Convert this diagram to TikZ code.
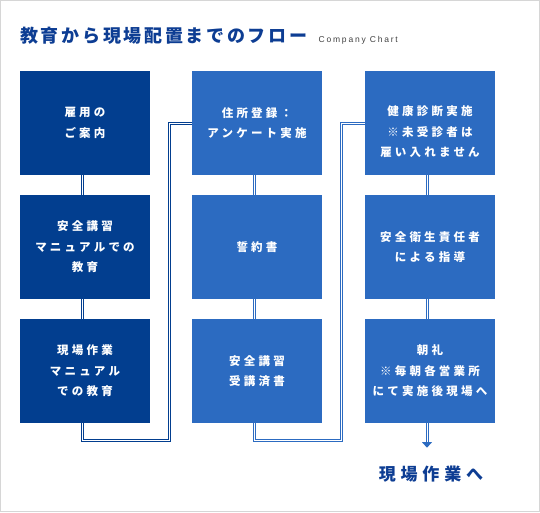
\documentclass[tikz,border=0pt]{standalone}
\usepackage{fontspec}
\newfontfamily\jpfont[LetterSpace=28]{Noto Sans CJK JP}
\newfontfamily\jptitle[LetterSpace=15]{Noto Sans CJK JP}
\newfontfamily\jpgoal[LetterSpace=28]{Noto Sans CJK JP}
\newfontfamily\latinsub[LetterSpace=21]{Liberation Sans}
\usetikzlibrary{calc, positioning}

\definecolor{dk}{HTML}{023E8F}
\definecolor{lt}{HTML}{2C6BC1}
\definecolor{ttl}{HTML}{0D3D93}
\definecolor{frame}{HTML}{D6D6D6}

\begin{document}
\begin{tikzpicture}[x=1pt, y=-1pt,
		box/.style={minimum width=130pt, minimum height=104pt, inner sep=0pt,
			text=white, align=center, font=\jpfont\bfseries\fontsize{11.5}{20.5}\selectfont},
		darkbox/.style={box, fill=dk},
		lightbox/.style={box, fill=lt},
		link/.style={draw=#1, line width=1pt, double=white, double distance=1pt},
		every node/.style={inner sep=0pt}]
	\useasboundingbox (0,0) rectangle (540,512);
	\draw[frame, line width=1pt] (0.5,0.5) rectangle (539.5,511.5);

	% ==================== 見出し ====================
	\node[anchor=base west, text=ttl, font=\jptitle\bfseries\fontsize{18}{18}\selectfont] (title) at (20,42) {教育から現場配置までのフロー};
	\node[anchor=base west, text=black!75, font=\latinsub\fontsize{8.5}{8.5}\selectfont, xshift=11pt] (sub) at (title.base east) {Company Chart};

	% ==================== 左列 ====================
	\node[darkbox] (a1) at (85,123) {雇用の\\ご案内};
	\node[darkbox] (a2) at (85,247) {安全講習\\マニュアルでの\\教育};
	\node[darkbox] (a3) at (85,371) {現場作業\\マニュアル\\での教育};

	% ==================== 中列 ====================
	\node[lightbox] (b1) at (257,123) {住所登録：\\アンケート実施};
	\node[lightbox] (b2) at (257,247) {誓約書};
	\node[lightbox] (b3) at (257,371) {安全講習\\受講済書};

	% ==================== 右列 ====================
	\node[lightbox] (c1) at (430,123) {};
	\node[box] (c1t) at ([yshift=-9pt]c1.center) {健康診断実施\\※未受診者は\\雇い入れません};
	\node[lightbox] (c2) at (430,247) {安全衛生責任者\\による指導};
	\node[lightbox] (c3) at (430,371) {朝礼\\※毎朝各営業所\\にて実施後現場へ};

	% 列内の線
	\draw[link=dk] ([xshift=-3pt]a1.south) -- ([xshift=-3pt]a2.north);
	\draw[link=dk] ([xshift=-3pt]a2.south) -- ([xshift=-3pt]a3.north);
	\draw[link=lt] ([xshift=-3pt]b1.south) -- ([xshift=-3pt]b2.north);
	\draw[link=lt] ([xshift=-3pt]b2.south) -- ([xshift=-3pt]b3.north);
	\draw[link=lt] ([xshift=-3pt]c1.south) -- ([xshift=-3pt]c2.north);
	\draw[link=lt] ([xshift=-3pt]c2.south) -- ([xshift=-3pt]c3.north);

	% 列をまたぐ線
	\draw[link=dk] ([xshift=-3pt]a3.south) -- ++(0,17) -| ([xshift=-22pt]b1.west) -- (b1.west);
	\draw[link=lt] ([xshift=-3pt]b3.south) -- ++(0,17) -| ([xshift=-23pt]c1.west) -- (c1.west);

	% 最後の矢印
	\draw[link=lt] ([xshift=-3pt]c3.south) -- ++(0,19) coordinate (tip);
	\fill[lt] ([xshift=-5pt]tip) -- ([xshift=5pt]tip) -- ([yshift=-5.5pt]tip) -- cycle;
	\node[text=ttl, font=\jpgoal\bfseries\fontsize{17}{17}\selectfont] (goal) at (431,474) {現場作業へ};
\end{tikzpicture}
\end{document}
